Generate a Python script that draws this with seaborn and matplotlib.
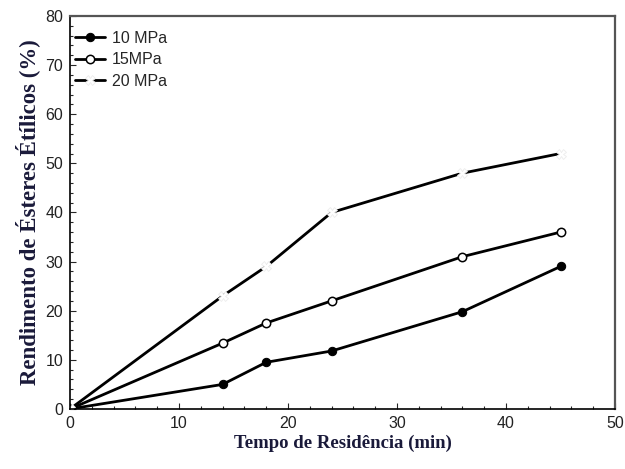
import matplotlib
matplotlib.use("Agg")
import matplotlib.pyplot as plt
import seaborn as sns
import pandas as pd
from matplotlib.ticker import MultipleLocator

# Residence time (min) and ethyl ester yield (%) at each pressure
tempo = [0, 14, 18, 24, 36, 45]
rend_10mpa = [0, 5.0, 9.5, 11.8, 19.8, 29.0]
rend_15mpa = [0, 13.4, 17.5, 22.0, 31.0, 36.0]
rend_20mpa = [0, 23.0, 29.0, 40.0, 48.0, 52.0]
series_labels = ["10 MPa", "15MPa", "20 MPa"]

df = pd.DataFrame({
    "tempo": tempo * 3,
    "rendimento": rend_10mpa + rend_15mpa + rend_20mpa,
    "serie": [series_labels[0]] * 6 + [series_labels[1]] * 6 + [series_labels[2]] * 6,
})

sns.set_style("ticks")
fig = plt.figure(figsize=(6.25, 4.69), dpi=100)
ax = fig.add_axes([0.112, 0.128, 0.872, 0.838])

styles = {
    "10 MPa": dict(marker="o", markersize=6, markerfacecolor="black", markeredgecolor="black"),
    "15MPa": dict(marker="o", markersize=6, markerfacecolor="white", markeredgecolor="black",
                  markeredgewidth=1.1),
    "20 MPa": dict(marker="X", markersize=7, markerfacecolor="white", markeredgecolor="#ececec",
                   markeredgewidth=0.6),
}
for lab in series_labels:
    sub = df[df["serie"] == lab]
    sns.lineplot(data=sub, x="tempo", y="rendimento", ax=ax, color="black",
                 linewidth=2.0, label=lab, **styles[lab])

ax.set_xlim(0, 50)
ax.set_ylim(0, 80)
ax.xaxis.set_major_locator(MultipleLocator(10))
ax.xaxis.set_minor_locator(MultipleLocator(2))
ax.yaxis.set_major_locator(MultipleLocator(10))
ax.yaxis.set_minor_locator(MultipleLocator(2))
ax.tick_params(which="both", direction="in", top=False, right=False, width=0.8)
ax.tick_params(which="major", length=4, labelsize=11.5, pad=5)
ax.tick_params(which="minor", length=2)
for t in ax.get_xticklabels() + ax.get_yticklabels():
    t.set_fontfamily("Liberation Sans")
    t.set_color("#222222")

for side in ["left", "bottom"]:
    ax.spines[side].set_color("black")
    ax.spines[side].set_linewidth(1.2)
for side in ["top", "right"]:
    ax.spines[side].set_color("#555555")
    ax.spines[side].set_linewidth(1.6)

label_font = dict(family="Liberation Serif", weight="bold", color="#1a1a3a")
ax.set_xlabel("Tempo de Residência (min)", labelpad=3, size=13.5, **label_font)
ax.set_ylabel("Rendimento de Ésteres Étílicos (%)", labelpad=4, size=16.5, **label_font)

leg = ax.legend(loc="upper left", bbox_to_anchor=(0.0, 0.975), frameon=False,
                handlelength=1.9, handletextpad=0.4, labelspacing=0.42,
                borderaxespad=0.0, borderpad=0.3,
                prop={"family": "Liberation Sans", "size": 11.5})

fig.savefig("out.png", dpi=100)
